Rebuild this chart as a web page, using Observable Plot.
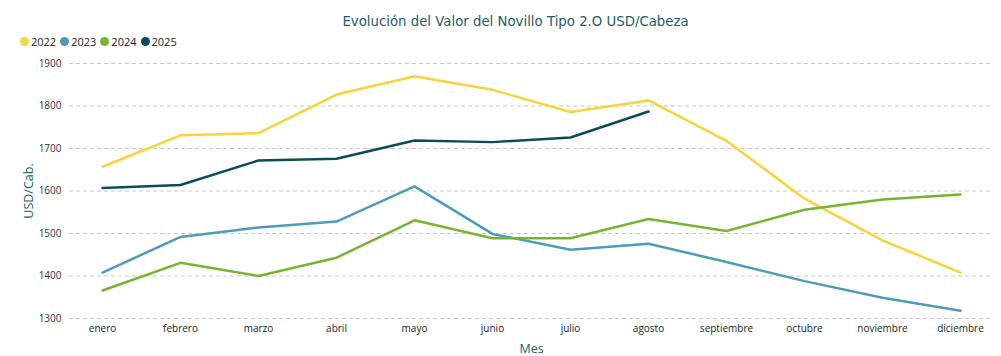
<!DOCTYPE html>
<html><head><meta charset="utf-8">
<script src="https://cdn.jsdelivr.net/npm/d3@7"></script>
<script src="https://cdn.jsdelivr.net/npm/@observablehq/plot@0.6"></script>
<style>
body{margin:0;background:#fff;font-family:"Open Sans",sans-serif;}
#title{height:30px;line-height:30px;padding-top:7px;box-sizing:border-box;text-align:center;padding-left:30px;font-family:"DejaVu Sans",Verdana,sans-serif;font-size:13.3px;color:#1f5b6e;}
#legend{height:22px;display:flex;align-items:center;padding-left:20px;font-size:11px;color:#222;}
#legend span{display:inline-flex;align-items:center;margin-right:4px;}
#legend i{display:inline-block;width:9px;height:9px;border-radius:50%;margin-right:2px;}
</style></head>
<body>
<div id="title">Evolución del Valor del Novillo Tipo 2.O USD/Cabeza</div>
<div id="legend"></div>
<div id="chart"></div>
<script>
const months = ["enero","febrero","marzo","abril","mayo","junio","julio","agosto","septiembre","octubre","noviembre","diciembre"];
const years = ["2022","2023","2024","2025"];
const colors = ["#f5d43c","#4e9bba","#77b530","#0d4b5c"];
const v2022 = [1657,1731,1736,1827,1870,1838,1786,1813,1718,1582,1484,1408];
const v2023 = [1408,1492,1514,1528,1611,1499,1462,1476,1433,1388,1349,1318];
const v2024 = [1366,1431,1400,1443,1531,1489,1489,1534,1506,1556,1580,1592];
const v2025 = [1607,1614,1672,1676,1719,1715,1726,1787];
const yTicks = [1300,1400,1500,1600,1700,1800,1900];

const series = [v2022,v2023,v2024,v2025];
const data = [];
series.forEach((vals,i)=>vals.forEach((v,j)=>data.push({year:years[i],month:months[j],value:v})));

const leg = document.getElementById("legend");
years.forEach((y,i)=>{const s=document.createElement("span");s.innerHTML=`<i style="background:${colors[i]}"></i>${y}`;leg.appendChild(s);});

const chart = Plot.plot({
  width:1001, height:304,
  marginLeft:69, marginRight:8, marginTop:11, marginBottom:38,
  style:{fontFamily:"Open Sans, sans-serif",fontSize:"10px",color:"#333"},
  x:{type:"point",domain:months,padding:0.4,label:null},
  y:{domain:[1300,1900],ticks:yTicks,label:null},
  color:{domain:years,range:colors},
  marks:[
    Plot.ruleY(yTicks,{stroke:"#c8c8c8",strokeDasharray:"4,3",strokeWidth:1}),
    Plot.axisY(yTicks,{tickSize:0,tickPadding:8,label:null,fill:"#333",fontSize:10,tickFormat:d=>String(d)}),
    Plot.axisX({tickSize:0,tickPadding:6,label:null,fill:"#222",fontSize:10}),
    Plot.lineY(data,{x:"month",y:"value",stroke:"year",z:"year",strokeWidth:2.5,strokeLinejoin:"round"}),
    Plot.text(["USD/Cab."],{frameAnchor:"left",textAnchor:"middle",dx:-41,rotate:-90,fill:"#1f5b6e",fontSize:12.5,fontFamily:"Open Sans, sans-serif"}),
    Plot.text(["Mes"],{frameAnchor:"bottom",dy:34,dx:0,fill:"#1f5b6e",fontSize:12.5,fontFamily:"Open Sans, sans-serif"})
  ]
});
document.getElementById("chart").appendChild(chart);
</script>
</body></html>
